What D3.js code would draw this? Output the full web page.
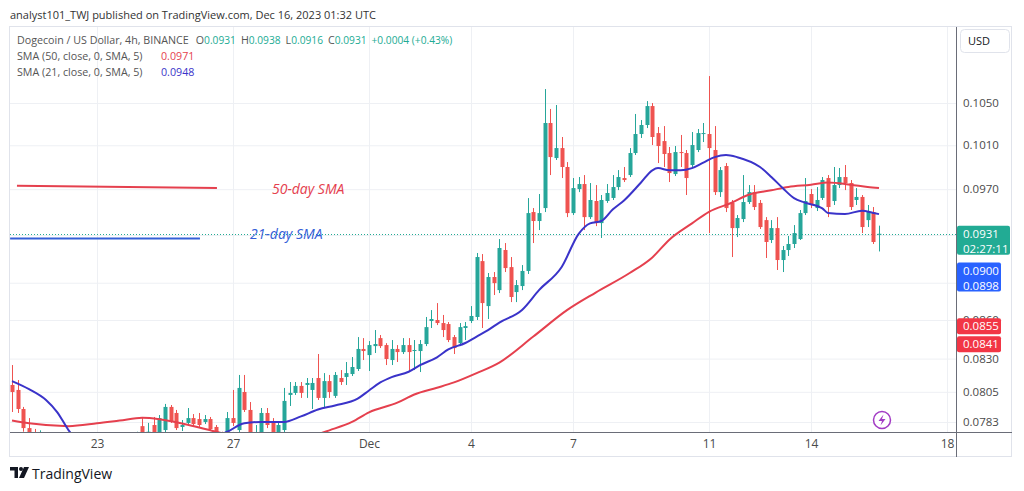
<!DOCTYPE html>
<html>
<head>
<meta charset="utf-8">
<title>Dogecoin / US Dollar, 4h, BINANCE</title>
<script src="https://cdn.jsdelivr.net/npm/d3@7/dist/d3.min.js"></script>
<style>
body { margin: 0; background: #fff; }
svg { display: block; font-family: 'Open Sans', sans-serif; }
</style>
</head>
<body>
<div id="chart"></div>
<script>
// 4h bars, the first one opens Nov 20 2023 12:00 UTC
var firstBar = Date.UTC(2023, 10, 20, 12);
var barHours = 4;

var candleOpen = [
  .08101,.08064,.07924,.07786,.07730,.07600,.07680,.07550,.07480,.07520,
  .07470,.07410,.07460,.07530,.07580,.07540,.07600,.07640,.07610,.07660,
  .07690,.07650,.07710,.07800,.07720,.07808,.07740,.07772,.07939,.07895,
  .07794,.07823,.07858,.07851,.07830,.07851,.07794,.07730,.07680,.07858,
  .07772,.08049,.07917,.07680,.07750,.07895,.07830,.07720,.07772,.08027,
  .08042,.08094,.08101,.08064,.08153,.08005,.08130,.08020,.08153,.08161,
  .08183,.08221,.08374,.08327,.08396,.08458,.08404,.08289,.08374,.08350,
  .08404,.08358,.08358,.08412,.08592,.08600,.08576,.08568,.08466,.08419,
  .08537,.08592,.08624,.09079,.08711,.08947,.08840,.09172,.09029,.08824,
  .08873,.08997,.09498,.09420,.09533,.10309,.09982,.10074,.09900,.09489,
  .09701,.09746,.09454,.09595,.09402,.09595,.09622,.09719,.09800,.09827,
  .10028,.10205,.10290,.10471,.10214,.10139,.10028,.09836,.10037,.10028,
  .09918,.10056,.10205,.10205,.10056,.09674,.09909,.09578,.09359,.09437,
  .09586,.09674,.09578,.09428,.09257,.09359,.09088,.09172,.09223,.09265,
  .09489,.09657,.09533,.09622,.09800,.09595,.09737,.09809,.09755,.09604,
  .09631,.09428,.09498,.09310
];
var candleHigh = [
  .08251,.08138,.07939,.07858,.07780,.07770,.07720,.07620,.07560,.07600,
  .07540,.07500,.07570,.07620,.07650,.07630,.07680,.07710,.07700,.07730,
  .07740,.07740,.07760,.07858,.07823,.07866,.07880,.07961,.07953,.07917,
  .07844,.07931,.07887,.07895,.07880,.07866,.07808,.07760,.07902,.08064,
  .08176,.08176,.07975,.07808,.07931,.07931,.07858,.07823,.08079,.08123,
  .08123,.08123,.08153,.08153,.08335,.08190,.08176,.08198,.08213,.08274,
  .08312,.08466,.08458,.08435,.08521,.08482,.08419,.08443,.08404,.08458,
  .08458,.08443,.08443,.08624,.08679,.08735,.08640,.08584,.08482,.08576,
  .08584,.08711,.09147,.09138,.08980,.08988,.09265,.09231,.09113,.08922,
  .09046,.09621,.09533,.09657,.10636,.10443,.10481,.10177,.09945,.09800,
  .09809,.09827,.09755,.09737,.09648,.09746,.09827,.09872,.09900,.10074,
  .10395,.10337,.10519,.10500,.10271,.10280,.10084,.10093,.10196,.10056,
  .10224,.10252,.10309,.10764,.10280,.09900,.09936,.09604,.09472,.09827,
  .09737,.09737,.09604,.09454,.09428,.09454,.09206,.09291,.09385,.09516,
  .09800,.09701,.09719,.09809,.09827,.09900,.09891,.09918,.09782,.09710,
  .09648,.09560,.09542,.09380
];
var candleLow = [
  .07902,.07895,.07760,.07700,.07550,.07520,.07500,.07420,.07380,.07450,
  .07350,.07320,.07400,.07480,.07500,.07490,.07550,.07570,.07560,.07600,
  .07620,.07600,.07640,.07660,.07680,.07700,.07700,.07758,.07823,.07772,
  .07765,.07808,.07794,.07786,.07815,.07765,.07680,.07620,.07640,.07801,
  .07758,.07902,.07690,.07620,.07720,.07786,.07700,.07680,.07758,.07946,
  .08027,.08005,.08005,.07924,.07990,.07931,.08005,.08005,.08101,.08101,
  .08168,.08206,.08289,.08206,.08343,.08381,.08251,.08251,.08274,.08335,
  .08198,.08213,.08198,.08396,.08537,.08560,.08466,.08427,.08335,.08396,
  .08443,.08576,.08600,.08537,.08608,.08800,.08816,.08988,.08743,.08743,
  .08840,.08972,.09231,.09342,.09498,.09827,.09964,.09800,.09454,.09472,
  .09674,.09342,.09437,.09376,.09274,.09578,.09604,.09692,.09764,.09809,
  .10010,.10168,.10261,.10102,.09936,.09900,.09764,.09818,.09900,.09648,
  .09891,.10037,.10130,.09316,.09648,.09631,.09498,.09113,.09282,.09411,
  .09569,.09516,.09351,.09105,.09231,.09005,.08988,.09122,.09189,.09257,
  .09472,.09533,.09507,.09604,.09454,.09560,.09710,.09692,.09516,.09560,
  .09316,.09368,.09223,.09160
];
var candleClose = [
  .08049,.07924,.07786,.07730,.07600,.07680,.07550,.07480,.07520,.07470,
  .07410,.07460,.07530,.07580,.07540,.07600,.07640,.07610,.07660,.07690,
  .07650,.07710,.07750,.07720,.07760,.07750,.07858,.07939,.07837,.07786,
  .07808,.07858,.07815,.07808,.07851,.07779,.07730,.07660,.07858,.07823,
  .08079,.07917,.07730,.07740,.07895,.07808,.07740,.07808,.07983,.08042,
  .08094,.08042,.08116,.08116,.08005,.08130,.08049,.08176,.08123,.08190,
  .08236,.08374,.08358,.08404,.08412,.08396,.08297,.08374,.08350,.08404,
  .08350,.08366,.08412,.08544,.08608,.08576,.08521,.08443,.08381,.08544,
  .08552,.08632,.09113,.08735,.08947,.08897,.09189,.09021,.08784,.08881,
  .08997,.09489,.09420,.09489,.10309,.09991,.10074,.09900,.09489,.09710,
  .09746,.09454,.09604,.09402,.09604,.09666,.09719,.09809,.09782,.10028,
  .10205,.10290,.10471,.10177,.10093,.10019,.09845,.10037,.10028,.09800,
  .10102,.10214,.10214,.10074,.09674,.09872,.09533,.09359,.09446,.09586,
  .09674,.09542,.09368,.09240,.09359,.09088,.09172,.09223,.09316,.09489,
  .09595,.09560,.09604,.09782,.09542,.09737,.09809,.09755,.09542,.09631,
  .09368,.09498,.09240,.09310
];

// moving averages, read at these bar numbers
var sma21Bar = [0,3,6,8,10,15,20,25,30,35,38,41,44,48,51,54,57,61,63,65,67,70,72,75,77,80,82,84,86,90,
  93,97,100,102,104,106,108,111,113,114,116,118,120,122,124,126,128,132,134,136,138,140,143,144,147,150,152,153];
var sma21 = [.0813,.0807,.0799,.0790,.0777,.0762,.0758,.0761,.0765,.0771,.0776,.0782,.0783,.0783,.0787,
  .0792,.0795,.0800,.0806,.0812,.0816,.0820,.0825,.0831,.0837,.0842,.0847,.0852,.0858,.0868,
  .0884,.0903,.0931,.0940,.0942,.0952,.0960,.0976,.0987,.0989,.0987,.0987,.0989,.0994,.0999,
  .1001,.0999,.0990,.0981,.0971,.0962,.0958,.0953,.0949,.0948,.0951,.0949,.0948];
var sma50Bar = [0,3,10,15,19,23,26,31,35,36,40,45,50,53,56,60,63,68,71,75,78,82,86,92,98,103,109,113,116,120,
  123,127,130,134,137,141,144,148,151,153];
var sma50 = [.0784,.0782,.0780,.0782,.0784,.0786,.0785,.0781,.0777,.0776,.0772,.0770,.0770,.0773,.0777,
  .0783,.0790,.0797,.0803,.0808,.0812,.0819,.0827,.0847,.0868,.0882,.0898,.0911,.0926,.0940,
  .0950,.0958,.0965,.0969,.0972,.0974,.0976,.0974,.0972,.0971];

var dateTicks = [Date.UTC(2023,10,23), Date.UTC(2023,10,27), Date.UTC(2023,11,1), Date.UTC(2023,11,4),
  Date.UTC(2023,11,7), Date.UTC(2023,11,11), Date.UTC(2023,11,14), Date.UTC(2023,11,18)];
var dateLabels = ['23', '27', 'Dec', '4', '7', '11', '14', '18'];
var priceTicks = [0.1050, 0.1010, 0.0970, 0.0930, 0.0890, 0.0860, 0.0830, 0.0805, 0.0783];

var tagPrice = [0.0931, 0.0900, 0.0855, 0.0841];
var tagLines = [['0.0931', '02:27:11'], ['0.0900', '0.0898'], ['0.0855'], ['0.0841']];
var tagColor = ['#22ab94', '#2962ff', '#f23645', '#f23645'];

// hand drawn notes on the chart
var noteText = ['50-day SMA', '21-day SMA'];
var noteFrom = [Date.UTC(2023,10,20,15,30), Date.UTC(2023,10,20,10,40)];
var noteTo = [Date.UTC(2023,10,26,12,40), Date.UTC(2023,10,26,0,40)];
var noteFromPrice = [0.0973, 0.0927];
var noteToPrice = [0.0971, 0.0927];
var noteTextAt = [Date.UTC(2023,10,28,3,30), Date.UTC(2023,10,27,12)];
var noteTextPrice = [0.0970, 0.0931];
var noteColor = ['#e5404e', '#3560d8'];

var chartWidth = 1024, chartHeight = 491;
var chartLeft = 10, plotRight = 956, chartRight = 1012;
var plotTop = 27, plotBottom = 432, chartBottom = 457;
var upColor = '#26a69a', downColor = '#ef5350';
var gridColor = '#eef0f4';

window.onload = function() {
    render();
};

function barTime(i) {
    return new Date(firstBar + i * barHours * 3600000);
}

function render() {
    var svg = d3.select('#chart').append('svg')
        .attr('width', chartWidth)
        .attr('height', chartHeight);

    var x = d3.scaleTime()
        .domain([new Date(Date.UTC(2023,10,20,10,35)), new Date(Date.UTC(2023,11,18,6,21))])
        .range([chartLeft, plotRight]);
    var y = d3.scaleLog()
        .domain([0.07758, 0.11261])
        .range([plotBottom, plotTop]);

    svg.append('text')
        .attr('x', 10).attr('y', 19)
        .style('font-size', '11px').style('fill', '#333')
        .text('analyst101_TWJ published on TradingView.com, Dec 16, 2023 01:32 UTC');

    // frame
    svg.append('rect')
        .attr('x', chartLeft - 0.5).attr('y', plotTop - 0.5)
        .attr('width', chartRight - chartLeft).attr('height', chartBottom - plotTop)
        .style('fill', 'none').style('stroke', '#e0e3eb');

    // grid
    svg.append('g')
        .attr('transform', 'translate(0,' + plotBottom + ')')
        .call(d3.axisBottom(x).tickValues(dateTicks.map(function(d) { return new Date(d); }))
            .tickSize(-(plotBottom - plotTop)).tickFormat(''))
        .call(function(g) {
            g.select('.domain').remove();
            g.selectAll('line').style('stroke', gridColor);
        });
    svg.append('g')
        .attr('transform', 'translate(' + chartLeft + ',0)')
        .call(d3.axisRight(y).tickValues(priceTicks).tickSize(plotRight - chartLeft).tickFormat(''))
        .call(function(g) {
            g.select('.domain').remove();
            g.selectAll('line').style('stroke', gridColor);
        });

    svg.append('clipPath').attr('id', 'plot-clip')
        .append('rect')
        .attr('x', chartLeft).attr('y', plotTop)
        .attr('width', plotRight - chartLeft).attr('height', plotBottom - plotTop);
    var plot = svg.append('g').attr('clip-path', 'url(#plot-clip)');

    // last price line
    var last = candleClose.length - 1;
    plot.append('line')
        .attr('x1', chartLeft).attr('x2', plotRight)
        .attr('y1', Math.round(y(candleClose[last])) + 0.5)
        .attr('y2', Math.round(y(candleClose[last])) + 0.5)
        .style('stroke', '#22ab94').style('stroke-dasharray', '1,2');

    var bars = d3.range(candleOpen.length).map(function(i) {
        return { t: barTime(i), o: candleOpen[i], h: candleHigh[i], l: candleLow[i], c: candleClose[i] };
    });
    function barColor(d) { return d.c >= d.o ? upColor : downColor; }

    plot.selectAll('line.wick').data(bars).enter().append('line')
        .attr('class', 'wick')
        .attr('x1', function(d) { return Math.round(x(d.t)) + 0.5; })
        .attr('x2', function(d) { return Math.round(x(d.t)) + 0.5; })
        .attr('y1', function(d) { return y(d.h); })
        .attr('y2', function(d) { return y(d.l); })
        .style('stroke', barColor);
    plot.selectAll('rect.body').data(bars).enter().append('rect')
        .attr('class', 'body')
        .attr('x', function(d) { return Math.round(x(d.t)) - 1.5; })
        .attr('width', 4)
        .attr('y', function(d) { return y(Math.max(d.o, d.c)); })
        .attr('height', function(d) { return Math.max(1, Math.abs(y(d.o) - y(d.c))); })
        .style('fill', barColor);

    var smaLine = d3.line()
        .x(function(d) { return x(barTime(d[0])); })
        .y(function(d) { return y(d[1]); })
        .curve(d3.curveMonotoneX);
    plot.append('path')
        .datum(d3.zip(sma50Bar, sma50))
        .attr('d', smaLine)
        .style('fill', 'none').style('stroke', '#e5404e').style('stroke-width', 2);
    plot.append('path')
        .datum(d3.zip(sma21Bar, sma21))
        .attr('d', smaLine)
        .style('fill', 'none').style('stroke', '#3a33c9').style('stroke-width', 2);

    // notes
    for (var i = 0; i < noteText.length; i++) {
        plot.append('line')
            .attr('x1', x(new Date(noteFrom[i]))).attr('x2', x(new Date(noteTo[i])))
            .attr('y1', y(noteFromPrice[i])).attr('y2', y(noteToPrice[i]))
            .style('stroke', noteColor[i]).style('stroke-width', 2);
        plot.append('text')
            .attr('x', x(new Date(noteTextAt[i])))
            .attr('y', y(noteTextPrice[i]))
            .attr('dy', '0.35em')
            .style('font-size', '14px').style('font-style', 'italic')
            .style('fill', noteColor[i])
            .text(noteText[i]);
    }

    // lightning icon
    var icon = svg.append('g').attr('transform', 'translate(882,420)');
    icon.append('circle').attr('r', 8.5)
        .style('fill', '#fff').style('stroke', '#a23bc4').style('stroke-width', 1.5);
    icon.append('path').attr('d', 'M1.5,-5.5 L-3.5,1 L0,1 L-1.5,5.5 L3.5,-1 L0,-1 Z')
        .style('fill', '#a23bc4');

    // axis lines
    svg.append('line')
        .attr('x1', plotRight + 0.5).attr('x2', plotRight + 0.5)
        .attr('y1', plotTop).attr('y2', chartBottom)
        .style('stroke', '#6a6d78');
    svg.append('line')
        .attr('x1', chartLeft).attr('x2', chartRight)
        .attr('y1', plotBottom + 0.5).attr('y2', plotBottom + 0.5)
        .style('stroke', '#6a6d78');

    // date labels
    svg.append('g')
        .attr('transform', 'translate(0,' + plotBottom + ')')
        .call(d3.axisBottom(x).tickValues(dateTicks.map(function(d) { return new Date(d); }))
            .tickSize(0).tickPadding(7)
            .tickFormat(function(d, i) { return dateLabels[i]; }))
        .call(function(g) {
            g.select('.domain').remove();
            g.selectAll('text').style('font-size', '12px').style('fill', '#4a4a4a')
                .style('font-family', "'Open Sans', sans-serif");
        });

    // price tags: where they sit
    var tagBoxes = tagPrice.map(function(p, k) {
        var ty = y(p);
        return { top: ty - 8, height: tagLines[k].length == 2 ? 29 : 16, width: k == 0 ? 53 : 44, ty: ty };
    });
    function coveredByTag(p) {
        var py = y(p);
        return tagBoxes.some(function(b) { return py > b.top + 4 && py < b.top + b.height - 4; });
    }

    // price labels (those fully under a tag are not drawn)
    svg.append('g')
        .attr('transform', 'translate(' + plotRight + ',0)')
        .call(d3.axisRight(y).tickValues(priceTicks.filter(function(p) { return !coveredByTag(p); }))
            .tickSize(0).tickPadding(7)
            .tickFormat(d3.format('.4f')))
        .call(function(g) {
            g.select('.domain').remove();
            g.selectAll('text').style('font-size', '11.5px').style('fill', '#4a4a4a')
                .style('font-family', "'Open Sans', sans-serif");
        });

    tagBoxes.forEach(function(b, k) {
        svg.append('rect')
            .attr('x', plotRight + 1).attr('y', b.top)
            .attr('width', b.width).attr('height', b.height).attr('rx', 2)
            .style('fill', tagColor[k]);
        tagLines[k].forEach(function(t, j) {
            svg.append('text')
                .attr('x', plotRight + 7).attr('y', b.ty + j * 15)
                .attr('dy', '0.35em')
                .style('font-size', '11.5px').style('fill', '#fff')
                .text(t);
        });
    });

    // USD button
    svg.append('rect')
        .attr('x', 960.5).attr('y', 29.5).attr('width', 49).attr('height', 23).attr('rx', 4)
        .style('fill', '#fff').style('stroke', '#e0e3eb');
    svg.append('text')
        .attr('x', 968).attr('y', 45)
        .style('font-size', '11px').style('fill', '#131722')
        .text('USD');

    makeLegend(svg, last);
    makeLogo(svg);
}

function makeLegend(svg, last) {
    var f = d3.format('.4f');
    var gray = '#555', teal = '#22ab94';
    var row1 = svg.append('text').attr('x', 17).attr('y', 44).style('font-size', '10.7px');
    row1.append('tspan').style('fill', gray).text('Dogecoin / US Dollar, 4h, BINANCE');
    var ohlc = [['O', candleOpen[last]], ['H', candleHigh[last]],
                ['L', candleLow[last]], ['C', candleClose[last]]];
    ohlc.forEach(function(p, i) {
        row1.append('tspan').attr('dx', i == 0 ? 7 : 5).style('fill', gray).text(p[0]);
        row1.append('tspan').style('fill', teal).style('font-size', '10.2px').text(f(p[1]));
    });
    row1.append('tspan').attr('dx', 5).style('fill', teal).style('font-size', '10.2px')
        .text('+0.0004 (+0.43%)');

    var row2 = svg.append('text').attr('x', 17).attr('y', 60).style('font-size', '10.7px');
    row2.append('tspan').style('fill', gray).text('SMA (50, close, 0, SMA, 5)');
    row2.append('tspan').attr('x', 161).style('fill', '#e5404e').text(f(sma50[sma50.length - 1]));

    var row3 = svg.append('text').attr('x', 17).attr('y', 76).style('font-size', '10.7px');
    row3.append('tspan').style('fill', gray).text('SMA (21, close, 0, SMA, 5)');
    row3.append('tspan').attr('x', 161).style('fill', '#3a33c9').text(f(sma21[sma21.length - 1]));
}

function makeLogo(svg) {
    var logo = svg.append('g').attr('transform', 'translate(10,467)');
    logo.append('path').attr('d', 'M0,0 H8 V11 H4.5 V3.5 H0 Z').style('fill', '#131722');
    logo.append('circle').attr('cx', 11).attr('cy', 2).attr('r', 2).style('fill', '#131722');
    logo.append('path').attr('d', 'M14,0 H19 L14,11 H9 Z').style('fill', '#131722');
    svg.append('text')
        .attr('x', 32).attr('y', 479)
        .style('font-size', '14px').style('fill', '#131722')
        .text('TradingView');
}
</script>
</body>
</html>
